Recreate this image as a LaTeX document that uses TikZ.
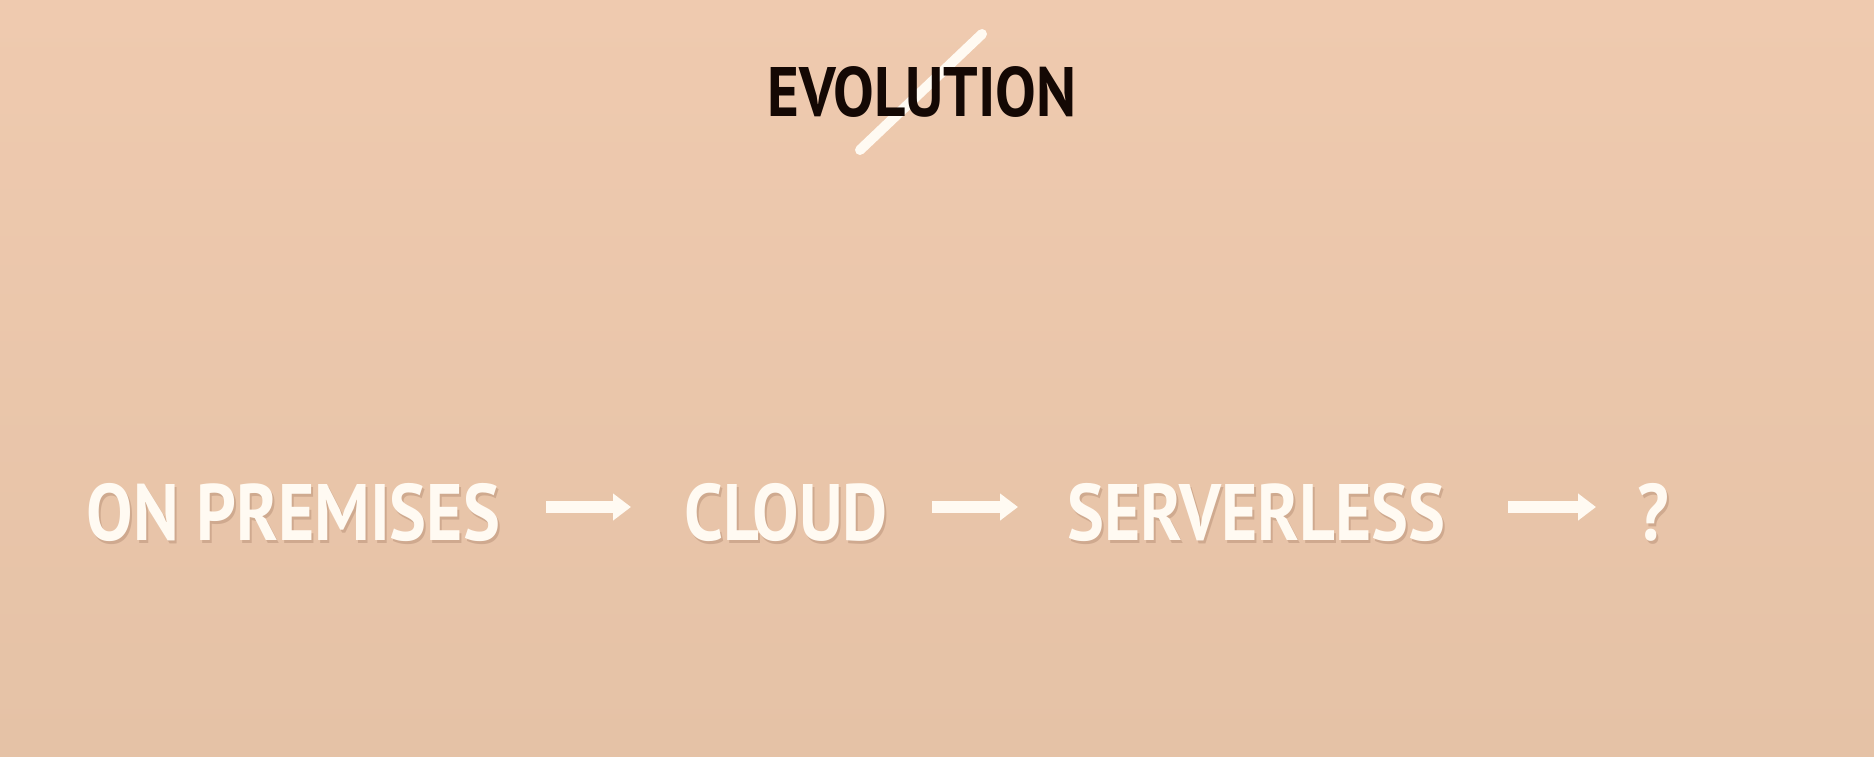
\documentclass[tikz,border=0pt]{standalone}
\usepackage{fontspec}
\setmainfont{PT Sans}
\newfontfamily\titlefont[FakeStretch=0.87]{PT Sans Bold}
\newfontfamily\rowfont[FakeStretch=0.87]{PT Sans Bold}
\usetikzlibrary{arrows.meta}
\definecolor{bgtop}{RGB}{239,202,175}
\definecolor{bgbot}{RGB}{229,194,166}
\definecolor{cream}{RGB}{255,250,242}
\definecolor{shadowc}{RGB}{170,130,105}
\definecolor{ink}{RGB}{20,8,4}
\tikzset{
  rowtext/.style={font=\rowfont\fontsize{40}{40}\selectfont, text=cream, inner sep=0pt, anchor=base west},
  rowshadow/.style={font=\rowfont\fontsize{40}{40}\selectfont, text=shadowc, opacity=0.4, inner sep=0pt, anchor=base west},
  flow/.style={cream, line width=6pt, -{Triangle[length=9pt,width=13pt]}},
}
\begin{document}
\begin{tikzpicture}[x=0.5pt,y=-0.5pt]
\useasboundingbox (0,0) rectangle (1874,756);
\shade[top color=bgtop, bottom color=bgbot] (0,0) rectangle (1874,756);
% slash
\draw[cream, line width=5pt, line cap=round] (860,150) -- (982,34);
% title
\node[font=\titlefont\fontsize{35}{35}\selectfont, text=ink, inner sep=0pt, anchor=base] (title) at (922,116) {EVOLUTION};
% shadows
\node[rowshadow] at (88,543) {ON PREMISES};
\node[rowshadow] at (686,543) {CLOUD};
\node[rowshadow] at (1069,543) {SERVERLESS};
\node[rowshadow] at (1639,543) {?};
% row
\node[rowtext] (onprem) at (86,540) {ON PREMISES};
\node[rowtext] (cloud) at (684,540) {CLOUD};
\node[rowtext] (serverless) at (1067,540) {SERVERLESS};
\node[rowtext] (q) at (1637,540) {?};
\coordinate (a1s) at (546,507); \coordinate (a1e) at (631,507);
\coordinate (a2s) at (932,507); \coordinate (a2e) at (1018,507);
\coordinate (a3s) at (1508,507); \coordinate (a3e) at (1596,507);
\draw[flow] (a1s) -- (a1e);
\draw[flow] (a2s) -- (a2e);
\draw[flow] (a3s) -- (a3e);
\end{tikzpicture}
\end{document}
